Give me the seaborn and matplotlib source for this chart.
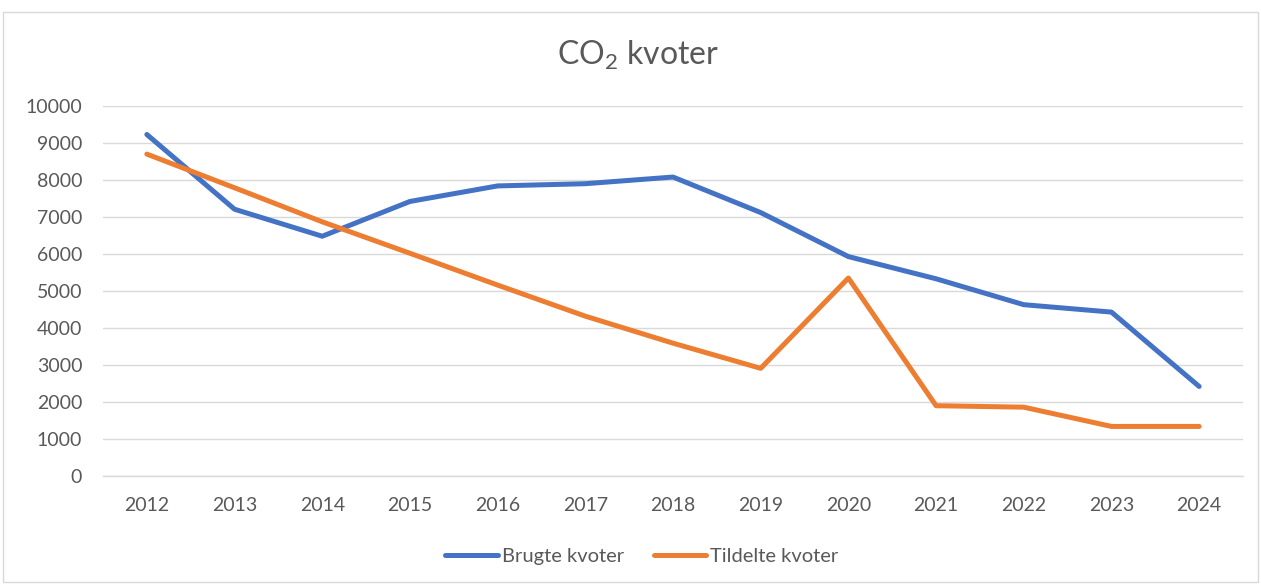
import matplotlib
matplotlib.use("Agg")
import matplotlib.pyplot as plt
import seaborn as sns
import pandas as pd
from matplotlib.patches import Rectangle

years = ["2012", "2013", "2014", "2015", "2016", "2017", "2018",
         "2019", "2020", "2021", "2022", "2023", "2024"]
brugte = [9230, 7210, 6480, 7420, 7840, 7900, 8080, 7120, 5930, 5330, 4630, 4430, 2420]
tildelte = [8700, 7790, 6870, 6020, 5160, 4320, 3590, 2910, 5350, 1900, 1860, 1340, 1340]
series_names = ["Brugte kvoter", "Tildelte kvoter"]
colors = ["#4472C4", "#ED7D31"]

df = pd.DataFrame({
    "År": years * 2,
    "Kvoter": brugte + tildelte,
    "Serie": [series_names[0]] * len(years) + [series_names[1]] * len(years),
})

sns.set_theme(style="white")
plt.rcParams["font.family"] = ["Lato", "DejaVu Sans"]
plt.rcParams["mathtext.fontset"] = "custom"
plt.rcParams["mathtext.rm"] = "Lato"

fig = plt.figure(figsize=(12.61, 5.85), dpi=100)
ax = fig.add_axes([103 / 1261, 1 - 476 / 585, (1243 - 103) / 1261, (476 - 106) / 585])

sns.lineplot(data=df, x="År", y="Kvoter", hue="Serie", palette=colors,
             linewidth=3.6, ax=ax, sort=False)

ax.set_xlim(-0.5, len(years) - 0.5)
ax.set_ylim(0, 10000)
ax.set_yticks(range(0, 10001, 1000))
ax.yaxis.grid(True, color="#D9D9D9", linewidth=1)
ax.xaxis.grid(False)
for s in ["top", "right", "left"]:
    ax.spines[s].set_visible(False)
ax.spines["bottom"].set_color("#D9D9D9")
ax.spines["bottom"].set_linewidth(1)
ax.tick_params(axis="both", length=0, labelsize=14, labelcolor="#595959")
ax.tick_params(axis="y", pad=15)
ax.tick_params(axis="x", pad=15)
ax.set_xlabel("")
ax.set_ylabel("")

fig.text(0.506, 1 - 55 / 585, r"CO$_\mathregular{2}$ kvoter", ha="center", va="center",
         fontsize=23, color="#595959")

handles, labels = ax.get_legend_handles_labels()
ax.get_legend().remove()
fig.legend(handles, labels, loc="center", bbox_to_anchor=(0.509, 1 - 556 / 585),
           ncol=2, frameon=False, fontsize=14.5, labelcolor="#595959",
           handlelength=2.6, handletextpad=0.2, columnspacing=1.5)

fig.patches.append(Rectangle((3 / 1261, 3 / 585), 1 - 6 / 1261, 1 - 15 / 585,
                             transform=fig.transFigure, fill=False,
                             edgecolor="#D9D9D9", linewidth=1))

fig.savefig("out.png", dpi=100, facecolor="white")
